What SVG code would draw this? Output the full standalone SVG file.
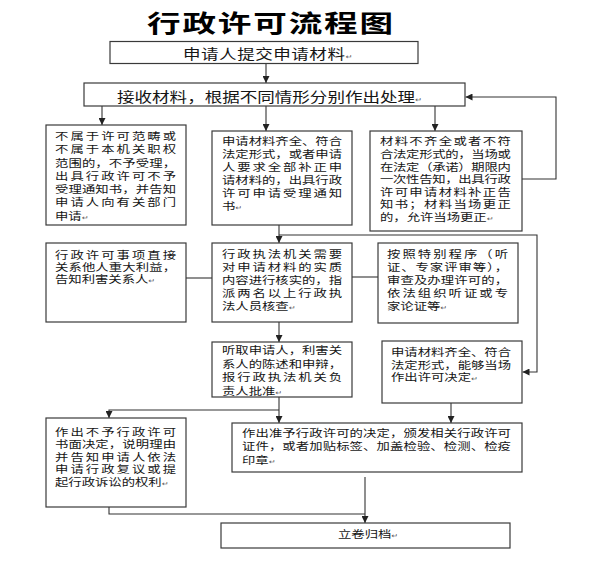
<svg xmlns="http://www.w3.org/2000/svg" width="610" height="584" viewBox="0 0 610 584">
<style>
.box{fill:#fff;stroke:#3a3a3a;stroke-width:1.2}
.c{fill:none;stroke:#333;stroke-width:1.1}
text{font-family:"Noto Sans CJK SC","Noto Sans",sans-serif;fill:#151515}
.t{font-size:10.5px}
.title{font-size:24px;font-weight:bold;letter-spacing:1.3px;fill:#000}
.m{font-size:13.5px}
.pm{font-family:"DejaVu Sans",sans-serif;font-size:6.5px;fill:#555}
</style>
<defs>
<marker id="ah" markerUnits="userSpaceOnUse" markerWidth="7" markerHeight="7" refX="7" refY="3.5" orient="auto">
<path d="M0,0 L7,3.5 L0,7 z" fill="#222"/>
</marker>
</defs>
<rect width="610" height="584" fill="#fff"/>
<text id="title" class="title" transform="translate(147,31.5) scale(1.4,1)">行政许可流程图</text>

<g id="connectors">
<path class="c" d="M266,64 V83" marker-end="url(#ah)"/>
<path class="c" d="M102,106 V125" marker-end="url(#ah)"/>
<path class="c" d="M266,106 V131" marker-end="url(#ah)"/>
<path class="c" d="M435,106 V131" marker-end="url(#ah)"/>
<path class="c" d="M522,179 H556 V97 H465.5" marker-end="url(#ah)"/>
<path class="c" d="M279,225 V243" marker-end="url(#ah)"/>
<path class="c" d="M279,235 H537 V372 H522.5" marker-end="url(#ah)"/>
<path class="c" d="M186,278 H212"/>
<path class="c" d="M352,277 H378"/>
<path class="c" d="M279,322 V342" marker-end="url(#ah)"/>
<path class="c" d="M279,397 V423" marker-end="url(#ah)"/>
<path class="c" d="M279,410 H109 V418" marker-end="url(#ah)"/>
<path class="c" d="M451,403 V423" marker-end="url(#ah)"/>
<path class="c" d="M109,507 V514 H365"/>
<path class="c" d="M365,477 V523" marker-end="url(#ah)"/>
</g>

<g id="n1">
<rect class="box" x="110" y="41.5" width="308" height="22"/>
<text class="m" transform="translate(183,58.5) scale(1.3,1)" letter-spacing="0.4">申请人提交申请材料<tspan class="pm">↵</tspan></text>
</g>

<g id="n2">
<rect class="box" x="84" y="83" width="381" height="23"/>
<text class="m" transform="translate(117,101.5) scale(1.3,1)">接收材料，根据不同情形分别作出处理<tspan class="pm">↵</tspan></text>
</g>

<g id="n3">
<rect class="box" x="46" y="125" width="140" height="100"/>
<g transform="translate(55,0) scale(1.27,1)" class="t">
<text y="140" textLength="95.3">不属于许可范畴或</text>
<text y="153.3" textLength="95.3">不属于本机关职权</text>
<text y="166.6" textLength="95.3">范围的，不予受理，</text>
<text y="179.9" textLength="95.3">出具行政许可不予</text>
<text y="193.2" textLength="95.3">受理通知书，并告知</text>
<text y="206.5" textLength="95.3">申请人向有关部门</text>
<text y="219.8">申请<tspan class="pm">↵</tspan></text>
</g>
</g>

<g id="n4">
<rect class="box" x="212" y="131" width="140" height="94"/>
<g transform="translate(222,0) scale(1.27,1)" class="t">
<text y="145.5" textLength="94.5">申请材料齐全、符合</text>
<text y="158.4" textLength="94.5">法定形式，或者申请</text>
<text y="171.3" textLength="94.5">人要求全部补正申</text>
<text y="184.2" textLength="94.5">请材料的，出具行政</text>
<text y="197.1" textLength="94.5">许可申请受理通知</text>
<text y="210">书<tspan class="pm">↵</tspan></text>
</g>
</g>

<g id="n5">
<rect class="box" x="370" y="131" width="152" height="100"/>
<g transform="translate(380,0) scale(1.27,1)" class="t">
<text y="145.5" textLength="103">材料不齐全或者不符</text>
<text y="158.1" textLength="103">合法定形式的，当场或</text>
<text y="170.7" textLength="103">在法定（承诺）期限内</text>
<text y="183.3" textLength="103">一次性告知，出具行政</text>
<text y="195.9" textLength="103">许可申请材料补正告</text>
<text y="208.5" textLength="103">知书；材料当场更正</text>
<text y="221.1">的，允许当场更正<tspan class="pm">↵</tspan></text>
</g>
</g>

<g id="n6">
<rect class="box" x="46" y="243" width="140" height="79"/>
<g transform="translate(55,0) scale(1.27,1)" class="t">
<text y="259" textLength="95.3">行政许可事项直接</text>
<text y="271" textLength="95.3">关系他人重大利益，</text>
<text y="283">告知利害关系人<tspan class="pm">↵</tspan></text>
</g>
</g>

<g id="n7">
<rect class="box" x="212" y="243" width="140" height="79"/>
<g transform="translate(222,0) scale(1.27,1)" class="t">
<text y="258" textLength="94.5">行政执法机关需要</text>
<text y="271" textLength="94.5">对申请材料的实质</text>
<text y="284" textLength="94.5">内容进行核实的，指</text>
<text y="297" textLength="94.5">派两名以上行政执</text>
<text y="310">法人员核查<tspan class="pm">↵</tspan></text>
</g>
</g>

<g id="n8">
<rect class="box" x="378" y="243" width="140" height="80"/>
<g transform="translate(387,0) scale(1.27,1)" class="t">
<text y="258" textLength="95.3">按照特别程序（听</text>
<text y="271" textLength="95.3">证、专家评审等），</text>
<text y="284" textLength="95.3">审查及办理许可的，</text>
<text y="297" textLength="95.3">依法组织听证或专</text>
<text y="310">家论证等<tspan class="pm">↵</tspan></text>
</g>
</g>

<g id="n9">
<rect class="box" x="212" y="342" width="140" height="55"/>
<g transform="translate(222,0) scale(1.27,1)" class="t">
<text y="354" textLength="94.5">听取申请人，利害关</text>
<text y="367.6" textLength="94.5">系人的陈述和申辩，</text>
<text y="381.2" textLength="94.5">报行政执法机关负</text>
<text y="394.6">责人批准<tspan class="pm">↵</tspan></text>
</g>
</g>

<g id="n10">
<rect class="box" x="382" y="341" width="140" height="62"/>
<g transform="translate(391,0) scale(1.27,1)" class="t">
<text y="356" textLength="94.5">申请材料齐全、符合</text>
<text y="369" textLength="94.5">法定形式，能够当场</text>
<text y="381.5">作出许可决定<tspan class="pm">↵</tspan></text>
</g>
</g>

<g id="n11">
<rect class="box" x="46" y="418" width="140" height="89"/>
<g transform="translate(55,0) scale(1.27,1)" class="t">
<text y="436" textLength="95.3">作出不予行政许可</text>
<text y="448.5" textLength="95.3">书面决定，说明理由</text>
<text y="461" textLength="95.3">并告知申请人依法</text>
<text y="473.5" textLength="95.3">申请行政复议或提</text>
<text y="486">起行政诉讼的权利<tspan class="pm">↵</tspan></text>
</g>
</g>

<g id="n12">
<rect class="box" x="232" y="423" width="290" height="49"/>
<g transform="translate(242,0) scale(1.27,1)" class="t">
<text y="437" textLength="211.8">作出准予行政许可的决定，颁发相关行政许可</text>
<text y="450.5" textLength="211.8">证件，或者加贴标签、加盖检验、检测、检疫</text>
<text y="464">印章<tspan class="pm">↵</tspan></text>
</g>
</g>

<g id="n13">
<rect class="box" x="221" y="523" width="289" height="25"/>
<text class="t" transform="translate(338,537.5) scale(1.27,1)">立卷归档<tspan class="pm">↵</tspan></text>
</g>
</svg>
